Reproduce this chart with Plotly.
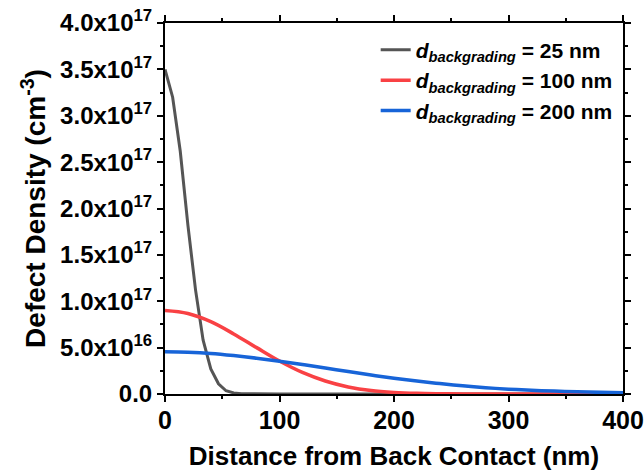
import plotly.graph_objects as go

# Defect density profiles vs. distance from the back contact
# (densities given in units of 1e17 cm^-3)
x_25 = [0, 6.67, 13.3, 20, 26.7, 33.3, 40, 46.7, 53.3, 60, 66.7, 80, 100,
        150, 200, 250, 300, 350, 400]
n_25 = [3.50, 3.20, 2.62, 1.82, 1.12, 0.58, 0.27, 0.11, 0.035, 0.012, 0.003,
        0.0, 0.0, 0.0, 0.0, 0.0, 0.0, 0.0, 0.0]

x_100 = [0, 20, 40, 60, 80, 100, 120, 140, 160, 180, 200, 220, 240, 260,
         300, 350, 400]
n_100 = [0.90, 0.868, 0.78, 0.648, 0.50, 0.355, 0.232, 0.140, 0.076, 0.037,
         0.017, 0.007, 0.003, 0.001, 0.0, 0.0, 0.0]

x_200 = [0, 20, 40, 60, 80, 100, 120, 140, 160, 180, 200, 220, 240, 260,
         280, 300, 320, 340, 360, 380, 400]
n_200 = [0.455, 0.450, 0.437, 0.414, 0.386, 0.354, 0.318, 0.280, 0.242,
         0.205, 0.170, 0.140, 0.112, 0.088, 0.068, 0.052, 0.040, 0.031,
         0.024, 0.018, 0.014]

series_names = [
    "<i>d</i><sub><i>backgrading</i></sub> = 25 nm",
    "<i>d</i><sub><i>backgrading</i></sub> = 100 nm",
    "<i>d</i><sub><i>backgrading</i></sub> = 200 nm",
]
series_colors = ["#555555", "#F94144", "#1764D8"]

x_tick_vals = [0, 100, 200, 300, 400]
y_tick_vals = [0, 0.5, 1.0, 1.5, 2.0, 2.5, 3.0, 3.5, 4.0]
y_tick_text = ["0.0", "5.0x10<sup>16</sup>", "1.0x10<sup>17</sup>",
               "1.5x10<sup>17</sup>", "2.0x10<sup>17</sup>",
               "2.5x10<sup>17</sup>", "3.0x10<sup>17</sup>",
               "3.5x10<sup>17</sup>", "4.0x10<sup>17</sup>"]
SCALE = 1e17

FONT = "Liberation Sans, Arial, sans-serif"

fig = go.Figure()
fig.add_trace(go.Scatter(x=x_25, y=[v * SCALE for v in n_25], mode="lines",
                         name=series_names[0],
                         line=dict(color=series_colors[0], width=3)))
fig.add_trace(go.Scatter(x=x_100, y=[v * SCALE for v in n_100], mode="lines",
                         name=series_names[1], line_shape="spline",
                         line=dict(color=series_colors[1], width=3.5)))
fig.add_trace(go.Scatter(x=x_200, y=[v * SCALE for v in n_200], mode="lines",
                         name=series_names[2], line_shape="spline",
                         line=dict(color=series_colors[2], width=3.5)))

axis_common = dict(
    showline=True, linecolor="black", linewidth=2, mirror="allticks",
    ticks="outside", ticklen=6, tickwidth=2, tickcolor="black",
    showgrid=False, zeroline=False, automargin=False,
)

fig.update_xaxes(
    range=[0, 400], tickvals=x_tick_vals,
    tickfont=dict(family=FONT, size=25, color="black", weight="bold"),
    ticklabelstandoff=-3,
    minor=dict(ticks="outside", ticklen=3, tickwidth=2, tickcolor="black",
               tickvals=[v + 50 for v in x_tick_vals[:-1]]),
    title=dict(text="Distance from Back Contact (nm)",
               font=dict(family=FONT, size=26, color="black", weight="bold"),
               standoff=14),
    **axis_common,
)
fig.update_yaxes(
    range=[0, 4 * SCALE],
    tickvals=[v * SCALE for v in y_tick_vals], ticktext=y_tick_text,
    tickfont=dict(family=FONT, size=24, color="black", weight="bold"),
    minor=dict(ticks="outside", ticklen=3, tickwidth=2, tickcolor="black",
               tickvals=[(v + 0.25) * SCALE for v in y_tick_vals[:-1]]),
    title=dict(text="Defect Density (cm<sup>-3</sup>)",
               font=dict(family=FONT, size=28, color="black", weight="bold"),
               standoff=6),
    **axis_common,
)

fig.update_layout(
    width=644, height=471,
    margin=dict(l=165, r=21, t=23, b=77),
    paper_bgcolor="white", plot_bgcolor="white",
    showlegend=True,
    legend=dict(
        x=0.46, y=0.982, xanchor="left", yanchor="top",
        bgcolor="rgba(0,0,0,0)", borderwidth=0,
        font=dict(family=FONT, size=21, color="black", weight="bold"),
        itemwidth=30, tracegroupgap=0,
    ),
)

fig.write_html("out.html")
